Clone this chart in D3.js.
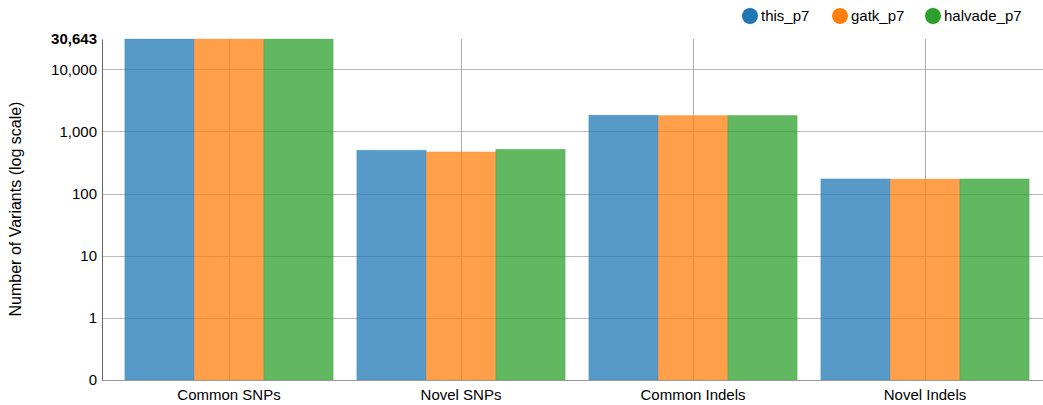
<!DOCTYPE html>
<html><head><meta charset="utf-8">
<script src="https://cdn.jsdelivr.net/npm/d3@7"></script>
<style>
body{margin:0;background:#fff;font-family:"Liberation Sans",Arial,sans-serif;}
svg text{font-family:"Liberation Sans",Arial,sans-serif;}
</style></head>
<body><svg id="c" width="1043" height="405"></svg>
<script>
const categories = ["Common SNPs","Novel SNPs","Common Indels","Novel Indels"];
const seriesNames = ["this_p7","gatk_p7","halvade_p7"];
const this_p7 = [30643, 498, 1824, 172];
const gatk_p7 = [30600, 468, 1800, 171];
const halvade_p7 = [30620, 516, 1805, 172];
const seriesValues = [this_p7, gatk_p7, halvade_p7];
const colors = ["#1f77b4","#ff7f0e","#2ca02c"];
const yTickValues = [0.1, 1, 10, 100, 1000, 10000, 30643];
const yTickLabels = ["0","1","10","100","1,000","10,000","30,643"];

const svg = d3.select("#c");
const pLeft = 102, pRight = 1043, pTop = 39, pBottom = 380;
const x = d3.scaleBand().domain(categories).range([113, 1041]).paddingInner(0).paddingOuter(0);
const y = d3.scaleLog().domain([0.1, 30643]).range([pBottom, pTop]);
const inner = d3.scaleBand().domain(seriesNames).range([0, x.bandwidth()]).paddingOuter(0.17).paddingInner(0);

// grids
const gy = svg.append("g");
gy.selectAll("line").data(yTickValues.slice(1, 6)).join("line")
  .attr("x1", pLeft).attr("x2", pRight).attr("y1", d => Math.round(y(d)) + 0.5).attr("y2", d => Math.round(y(d)) + 0.5)
  .attr("stroke", "#bbb").attr("stroke-width", 1);
const gx = svg.append("g");
gx.selectAll("line").data(categories).join("line")
  .attr("x1", d => Math.round(x(d) + x.bandwidth()/2) + 0.5).attr("x2", d => Math.round(x(d) + x.bandwidth()/2) + 0.5)
  .attr("y1", pTop).attr("y2", pBottom)
  .attr("stroke", "#aaa").attr("stroke-width", 1);

// bars
seriesNames.forEach((s, i) => {
  svg.append("g").selectAll("rect").data(seriesValues[i]).join("rect")
    .attr("x", (d, j) => x(categories[j]) + inner(s))
    .attr("width", inner.bandwidth())
    .attr("y", d => y(d))
    .attr("height", d => pBottom - y(d))
    .attr("fill", colors[i]).attr("fill-opacity", 0.75)
    .attr("stroke", colors[i]).attr("stroke-opacity", 0.25).attr("stroke-width", 1);
});

// y axis
const yAxis = d3.axisLeft(y).tickValues(yTickValues).tickSize(0).tickPadding(5)
  .tickFormat((d, i) => yTickLabels[i]);
const ya = svg.append("g").attr("transform", `translate(${pLeft},0)`).call(yAxis);
ya.select(".domain").attr("stroke", "#666");
ya.selectAll("text").attr("font-size", 15).attr("fill", "#000")
  .attr("font-weight", (d, i) => i === yTickValues.length - 1 ? "bold" : "normal");

// x axis
const xAxis = d3.axisBottom(x).tickSize(0).tickPadding(9);
const xa = svg.append("g").attr("transform", `translate(0,${pBottom})`).call(xAxis);
xa.select(".domain").attr("d", `M${pLeft},0.5H${pRight}`).attr("stroke", "#999");
xa.selectAll("text").attr("font-size", 15).attr("fill", "#000");

// y title
svg.append("text").attr("transform", `translate(21,209) rotate(-90)`)
  .attr("text-anchor", "middle").attr("font-size", 16).attr("fill", "#000")
  .text("Number of Variants (log scale)");

// legend
const legX = [750, 840, 933];
const lg = svg.append("g");
seriesNames.forEach((s, i) => {
  lg.append("circle").attr("cx", legX[i]).attr("cy", 16).attr("r", 8).attr("fill", colors[i]);
  lg.append("text").attr("x", legX[i] + 11).attr("y", 16).attr("dy", "0.35em")
    .attr("font-size", 15).attr("fill", "#000").text(s);
});
</script></body></html>
